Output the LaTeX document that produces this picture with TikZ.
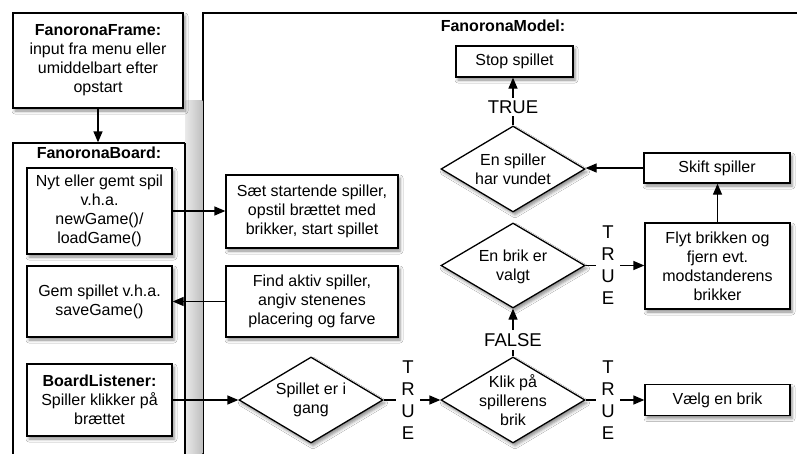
\documentclass[tikz,border=0pt]{standalone}
\usepackage{fontspec}
\setmainfont{Liberation Sans}
\usetikzlibrary{arrows.meta,shapes.geometric,shadows.blur}
\begin{document}
\begin{tikzpicture}[x=1pt,y=-1pt,
  every node/.style={font=\fontsize{16}{19}\selectfont},
  shad/.style={blur shadow={shadow xshift=2pt,shadow yshift=-3pt,shadow blur radius=3pt,shadow opacity=45}},
  box/.style={draw,fill=white,line width=1.3pt,align=center,inner sep=0pt,shad},
  dia/.style={diamond,draw,fill=white,line width=1.3pt,inner sep=0pt,minimum width=144pt,minimum height=86pt,shad},
  txt/.style={align=center,inner sep=0pt},
  lbl/.style={fill=white,inner xsep=5pt,inner ysep=2pt,font=\fontsize{18.5}{22}\selectfont,align=center},
  arr/.style={line width=1.3pt,-{Triangle[length=11pt,width=9pt]}},
  plain/.style={line width=1.3pt}
]
\clip (0,0) rectangle (797,453);
\fill[white] (0,0) rectangle (797,453);

% containers
\node[box,minimum width=612pt,minimum height=457pt] (model) at (509,241.5) {};
\node[box,minimum width=172pt,minimum height=327pt] (board) at (99,306.5) {};
\shade[left color=gray!18,right color=gray!50] (185.7,100) rectangle (202.3,460);
\draw[plain] (185,143) -- (185,460);
\node[txt,font=\fontsize{16}{19}\selectfont\bfseries] (boardtitle) at (99,153) {FanoronaBoard:};
\node[txt,font=\fontsize{16}{19}\selectfont\bfseries] (modeltitle) at (503,26) {FanoronaModel:};

% boxes
\node[box,minimum width=170pt,minimum height=95pt] (frame) at (98,60.5)
  {\textbf{FanoronaFrame:}\\input fra menu eller\\umiddelbart efter\\opstart};
\node[box,minimum width=145pt,minimum height=86pt] (newgame) at (99.5,211)
  {Nyt eller gemt spil\\v.h.a.\\newGame()/\\loadGame()};
\node[box,minimum width=145pt,minimum height=71pt] (savegame) at (99.5,301.5)
  {Gem spillet v.h.a.\\saveGame()};
\node[box,minimum width=145pt,minimum height=72pt] (listener) at (99.5,400)
  {\textbf{BoardListener:}\\Spiller klikker på\\brættet};
\node[box,minimum width=172pt,minimum height=73pt] (saet) at (312,211.5)
  {Sæt startende spiller,\\opstil brættet med\\brikker, start spillet};
\node[box,minimum width=172pt,minimum height=71pt] (find) at (312,301.5)
  {Find aktiv spiller,\\angiv stenenes\\placering og farve};
\node[box,minimum width=117pt,minimum height=31pt] (stop) at (514.5,61.5) {Stop spillet};
\node[box,minimum width=146pt,minimum height=30pt] (skift) at (717,168) {Skift spiller};
\node[box,minimum width=145pt,minimum height=86pt] (flyt) at (717.5,266)
  {Flyt brikken og\\fjern evt.\\modstanderens\\brikker};
\node[box,minimum width=145pt,minimum height=31pt] (vaelg) at (717.5,400) {Vælg en brik};

% diamonds
\node[dia] (spillet) at (311,400) {};
\node[txt] (spillett) at (spillet.center) {Spillet er i\\gang};
\node[dia] (klik) at (513,400) {};
\node[txt] (klikt) at (klik.center) {Klik på\\spillerens\\brik};
\node[dia,minimum height=85pt] (enbrik) at (513,265.5) {};
\node[txt] (enbrikt) at ([yshift=-1pt]enbrik.center) {En brik er\\valgt};
\node[dia] (vundet) at (513,169) {};
\node[txt] (vundett) at (vundet.center) {En spiller\\har vundet};

% connectors
\draw[arr] (frame.south) -- (frame.south |- board.north);
\draw[arr] (newgame.east) -- (newgame.east -| saet.west);
\draw[arr] (find.west) -- (find.west -| savegame.east);
\draw[arr] (listener.east) -- (spillet.west);
\draw[arr] (spillet.east) -- (klik.west);
\draw[arr] (klik.east) -- (klik.east -| vaelg.west);
\draw[arr] (klik.north) -- (enbrik.south);
\draw[arr] (enbrik.east) -- (enbrik.east -| flyt.west);
\draw[arr] (flyt.north) -- (flyt.north |- skift.south);
\draw[arr] (skift.west) -- (skift.west -| vundet.east);
\draw[arr] (vundet.north) -- (vundet.north |- stop.south);

% labels
\node[lbl] (l1) at (408,400) {T\\R\\U\\E};
\node[lbl] (l2) at (608,400) {T\\R\\U\\E};
\node[lbl] (l3) at (608,265) {T\\R\\U\\E};
\node[lbl,inner ysep=3pt] (l4) at (513,340) {FALSE};
\node[lbl,inner ysep=3pt] (l5) at (513,107) {TRUE};
\end{tikzpicture}
\end{document}
